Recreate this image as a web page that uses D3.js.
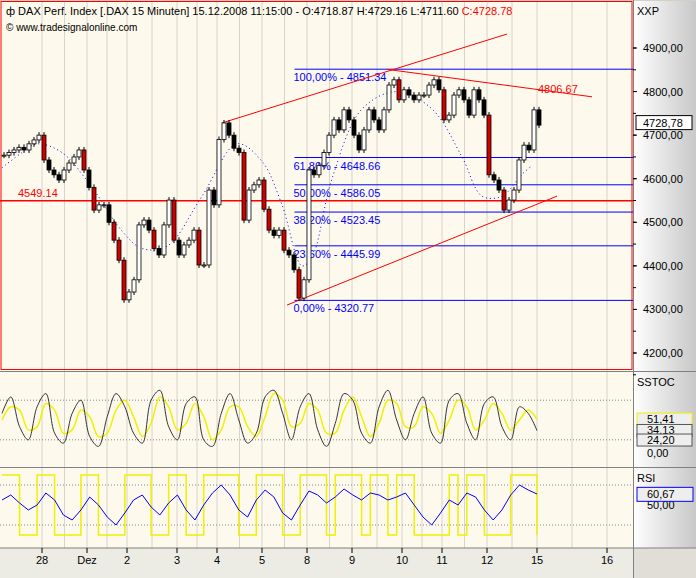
<!DOCTYPE html>
<html><head><meta charset="utf-8">
<script src="https://cdn.jsdelivr.net/npm/d3@7"></script>
<style>body{margin:0;background:#d4d0c8}svg{display:block;font-family:"Liberation Sans",Arial,sans-serif}</style>
</head><body><svg id="chart"></svg>
<script>
// closes of the DAX 15-min bars (sampled), bar index = position
const closes = [4654,4660,4666,4672,4666,4680,4689,4700,4643,4620,4609,4597,4620,4636,4650,4666,4620,4580,4528,4540,4540,4500,4459,4413,4322,4340,4368,4494,4505,4482,4440,4425,4494,4551,4459,4425,4448,4459,4482,4402,4402,4574,4540,4690,4728,4700,4670,4660,4505,4574,4586,4597,4530,4482,4470,4482,4436,4425,4391,4326,4368,4620,4609,4630,4660,4700,4735,4712,4758,4735,4700,4666,4712,4758,4735,4712,4758,4815,4827,4781,4804,4792,4781,4792,4792,4815,4827,4804,4735,4746,4792,4804,4781,4746,4804,4781,4746,4609,4597,4574,4528,4551,4574,4643,4677,4666,4758,4723];
const dayTicks = [8,17,25,35,43,52,61,70,80,88,97,107,121];
const dayLabels = ["28","Dez","2","3","4","5","8","9","10","11","12","15","16"];
const priceTicks = [4200,4300,4400,4500,4600,4700,4800,4900];
const fibLevels = [4851.34,4648.66,4586.05,4523.45,4445.99,4320.77];
const fibLabels = ["100,00% - 4851.34","61,80% - 4648.66","50,00% - 4586.05","38,20% - 4523.45","23,60% - 4445.99","0,00% - 4320.77"];
const cycleIdx = [0,4,7,12,18,24,28,33,40,47,52,56,60,62,66,72,79,86,92,96,100,104,106];
const cyclePx = [4625,4660,4680,4660,4580,4480,4440,4445,4560,4680,4640,4540,4400,4420,4600,4760,4800,4760,4650,4560,4560,4610,4630];
const trendLines = [[44,4728,101,4932],[57,4310,111,4560],[77,4851,118,4788]];
const sstocK = [60,85,40,20,70,90,30,15,60,80,25,10,55,90,70,30,15,80,95,40,20,75,85,20,10,60,90,50,15,30,85,95,60,20,70,90,35,10,45,90,80,30,15,70,95,50,20,60,85,30,15,80,90,45,20,75,85,40,20,70,60,34];
const sstocD = [50,70,65,35,40,75,65,30,35,65,55,25,30,65,80,55,25,45,85,70,35,45,75,55,20,35,70,70,40,25,55,90,80,40,45,75,65,30,30,65,85,55,25,45,80,75,40,40,70,60,30,50,80,70,35,50,75,60,35,50,65,51];
const rsiBlue = [55,60,52,45,50,62,55,40,35,45,58,50,38,30,42,55,60,48,40,52,60,45,35,50,62,70,60,45,38,55,65,58,42,35,50,64,60,52,58,66,60,55,62,60,55,58,62,50,38,30,42,55,50,62,58,45,35,45,60,70,65,61];
const rsiYellow = [80,80,20,20,80,80,20,20,20,80,80,20,20,20,80,80,80,20,20,80,80,20,20,80,80,80,80,20,20,80,80,80,20,20,80,80,80,20,80,80,80,20,80,80,20,80,80,20,20,20,20,80,20,80,80,20,20,20,80,80,80,20];

const W = 696, H = 578, plotR = 633, nBars = 128;
const svg = d3.select("#chart").attr("width", W).attr("height", H);
const bg = "#fdf9ec";
const x = d3.scaleLinear().domain([0, nBars]).range([2, 2 + nBars * 5]);
const y = d3.scaleLinear().domain([4200, 4900]).range([353, 48]);
const yS = d3.scaleLinear().domain([0, 100]).range([453, 387]);
const yR = d3.scaleLinear().domain([0, 100]).range([555, 455]);

svg.append("rect").attr("x",0).attr("y",0).attr("width",W).attr("height",H).attr("fill","#d4d0c8");
const defs = svg.append("defs");
const g = defs.append("linearGradient").attr("id","ax");
g.append("stop").attr("offset","0").attr("stop-color","#ffffff");
g.append("stop").attr("offset","1").attr("stop-color","#c8c8c8");
const panels = [[1,371],[372,467],[468,548]];
panels.forEach(p => {
  svg.append("rect").attr("x",0).attr("y",p[0]).attr("width",plotR).attr("height",p[1]-p[0]).attr("fill",bg);
  svg.append("rect").attr("x",plotR).attr("y",p[0]).attr("width",W-plotR).attr("height",p[1]-p[0]).attr("fill","url(#ax)");
});
svg.append("rect").attr("x",0).attr("y",548).attr("width",plotR).attr("height",30).attr("fill","#ecebe4");
svg.append("rect").attr("x",plotR).attr("y",548).attr("width",W-plotR).attr("height",30).attr("fill","#e0ded6");

// vertical grid
const grid = [];
dayTicks.forEach((d,i) => { grid.push(d); if (i < dayTicks.length-1) grid.push((d + dayTicks[i+1]) / 2); });
grid.forEach(d => {
  svg.append("line").attr("x1",x(d)).attr("x2",x(d)).attr("y1",2).attr("y2",548)
    .attr("stroke","#d8d4cc").attr("stroke-width",1);
});
[371.5,467.5,548].forEach(v => svg.append("line").attr("x1",0).attr("x2",W).attr("y1",v).attr("y2",v).attr("stroke","#808080"));
svg.append("line").attr("x1",plotR+0.5).attr("x2",plotR+0.5).attr("y1",0).attr("y2",H).attr("stroke","#808080");

// header
svg.append("rect").attr("x",1).attr("y",1.5).attr("width",plotR-2).attr("height",368).attr("fill","none").attr("stroke","red");
const ht = svg.append("text").attr("x",6).attr("y",15).attr("font-size",11);
ht.append("tspan").text("\u0444 DAX Perf. Index [.DAX  15 Minuten] 15.12.2008 11:15:00 - O:4718.87 H:4729.16 L:4711.60 ");
ht.append("tspan").attr("fill","red").text("C:4728.78");
svg.append("text").attr("x",6).attr("y",31).attr("font-size",10).text("\u00a9 www.tradesignalonline.com");
svg.append("text").attr("x",637).attr("y",15).attr("font-size",11).text("XXP");
svg.append("text").attr("x",637).attr("y",386).attr("font-size",11).text("SSTOC");
svg.append("text").attr("x",637).attr("y",482).attr("font-size",11).text("RSI");

// right price axis
priceTicks.forEach(v => {
  svg.append("line").attr("x1",plotR).attr("x2",plotR+4).attr("y1",y(v)).attr("y2",y(v)).attr("stroke","#000");
  svg.append("text").attr("x",plotR+10).attr("y",y(v)+4).attr("font-size",11).text(d3.format(".2f")(v).replace(".",","));
});
d3.range(4150, 4950, 50).forEach(v => svg.append("line").attr("x1",plotR).attr("x2",plotR+3).attr("y1",y(v)).attr("y2",y(v)).attr("stroke","#000"));

// fib lines
fibLevels.forEach((v,i) => {
  svg.append("line").attr("x1",x(58.5)).attr("x2",plotR).attr("y1",y(v)).attr("y2",y(v)).attr("stroke","blue");
  svg.append("text").attr("x",x(58.3)).attr("y",y(v)+12).attr("font-size",11).attr("fill","blue").text(fibLabels[i]);
});

// dotted cycle
svg.append("path").datum(cycleIdx.map((d,i)=>[d,cyclePx[i]]))
  .attr("d", d3.line().x(d=>x(d[0])).y(d=>y(d[1])).curve(d3.curveCatmullRom))
  .attr("fill","none").attr("stroke","blue").attr("stroke-dasharray","1,3");

svg.append("line").attr("x1",0).attr("x2",plotR).attr("y1",y(4549.14)).attr("y2",y(4549.14)).attr("stroke","red").attr("stroke-width",1.5);
svg.append("text").attr("x",18).attr("y",y(4549.14)-4).attr("font-size",11).attr("fill","red").text("4549.14");
trendLines.forEach(t => svg.append("line").attr("x1",x(t[0])).attr("y1",y(t[1])).attr("x2",x(t[2])).attr("y2",y(t[3])).attr("stroke","red"));
svg.append("text").attr("x",538).attr("y",y(4806.67)+4).attr("font-size",11).attr("fill","red").text("4806.67");

// candles
closes.forEach((c,i) => {
  const o = i ? closes[i-1] : c;
  const up = c >= o;
  const top = y(Math.max(o,c)), bot = y(Math.min(o,c));
  svg.append("line").attr("x1",x(i)+2).attr("x2",x(i)+2).attr("y1",top-3).attr("y2",bot+3).attr("stroke","#000");
  svg.append("rect").attr("x",x(i)).attr("y",top).attr("width",4).attr("height",Math.max(1,bot-top))
    .attr("fill", up ? "#fff" : (o - c > 40 ? "#d00000" : "#000")).attr("stroke","#000").attr("stroke-width",0.8);
});
svg.append("rect").attr("x",plotR+3).attr("y",y(4728.78)-7).attr("width",56).attr("height",14).attr("fill","#fff").attr("stroke","#000");
svg.append("text").attr("x",plotR+10).attr("y",y(4728.78)+4).attr("font-size",11).text("4728,78");

// SSTOC
[20,80].forEach(v => svg.append("line").attr("x1",0).attr("x2",plotR).attr("y1",yS(v)).attr("y2",yS(v)).attr("stroke","#888").attr("stroke-dasharray","1,2"));
const xo = d3.scaleLinear().domain([0, sstocK.length-1]).range([2, 537]);
svg.append("path").datum(sstocD).attr("d", d3.line().x((d,i)=>xo(i)).y(d=>yS(d)).curve(d3.curveCatmullRom)).attr("fill","none").attr("stroke","#f0f000").attr("stroke-width",1.5);
svg.append("path").datum(sstocK).attr("d", d3.line().x((d,i)=>xo(i)).y(d=>yS(d)).curve(d3.curveCatmullRom)).attr("fill","none").attr("stroke","#333");
svg.append("text").attr("x",plotR+14).attr("y",yS(0)+4).attr("font-size",11).text("0,00");
[[51.41,"#f0f000",0],[34.13,"#555",0],[24.2,"#555",3]].forEach(t => {
  const ty = yS(t[0]) + t[2];
  svg.append("rect").attr("x",plotR+4).attr("y",ty-6).attr("width",55).attr("height",12).attr("fill","#eee").attr("stroke",t[1]);
  svg.append("text").attr("x",plotR+14).attr("y",ty+4).attr("font-size",11).text(d3.format(".2f")(t[0]).replace(".",","));
});

// RSI
[30,70].forEach(v => svg.append("line").attr("x1",0).attr("x2",plotR).attr("y1",yR(v)).attr("y2",yR(v)).attr("stroke","#888").attr("stroke-dasharray","1,2"));
svg.append("path").datum(rsiYellow).attr("d", d3.line().x((d,i)=>xo(i)).y(d=>yR(d)).curve(d3.curveStepAfter)).attr("fill","none").attr("stroke","#f0f000").attr("stroke-width",1.5);
svg.append("path").datum(rsiBlue).attr("d", d3.line().x((d,i)=>xo(i)).y(d=>yR(d))).attr("fill","none").attr("stroke","blue");
svg.append("text").attr("x",plotR+14).attr("y",yR(50)+4).attr("font-size",11).text("50,00");
svg.append("rect").attr("x",plotR+4).attr("y",yR(60.67)-7).attr("width",56).attr("height",14).attr("fill","#eee").attr("stroke","blue");
svg.append("text").attr("x",plotR+14).attr("y",yR(60.67)+4).attr("font-size",11).text("60,67");

// time axis
dayTicks.forEach((d,i) => {
  svg.append("line").attr("x1",x(d)).attr("x2",x(d)).attr("y1",548).attr("y2",553).attr("stroke","#000");
  svg.append("text").attr("x",x(d)).attr("y",564).attr("font-size",11).attr("text-anchor","middle").text(dayLabels[i]);
});
</script></body></html>
